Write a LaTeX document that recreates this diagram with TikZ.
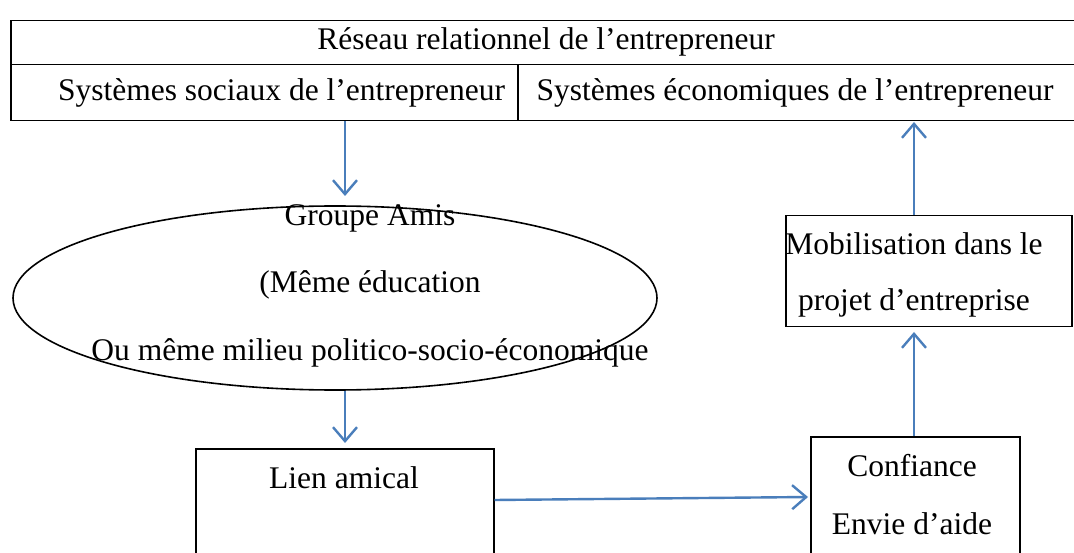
\documentclass[tikz,border=0pt]{standalone}
\usepackage{fontspec}
\setmainfont{Liberation Serif}
\usetikzlibrary{shapes.geometric,arrows.meta}
\definecolor{arrowblue}{HTML}{4A7EBB}
\begin{document}
\begin{tikzpicture}[x=1pt,y=-1pt,
  box/.style={draw,line width=1.5pt,rectangle,anchor=north west,inner sep=0pt},
  txt/.style={anchor=base,inner sep=0pt,font=\fontsize{31.5}{38}\selectfont},
  arr/.style={draw=arrowblue,line width=2.4pt,-{Straight Barb[length=14pt,width=24pt,line width=2.4pt]}}]
\useasboundingbox (0,0) rectangle (1074,553);
\fill[white] (0,0) rectangle (1074,553);
% table
\node[box,minimum width=1066pt,minimum height=44pt] (title) at (10,20) {};
\node[box,minimum width=507pt,minimum height=56pt] (soc) at (10,64) {};
\node[box,minimum width=559pt,minimum height=56pt] (eco) at (517,64) {};
\node[txt] (ttitle) at (546,50) {Réseau relationnel de l’entrepreneur};
\node[txt] (tsoc) at (281.5,101) {Systèmes sociaux de l’entrepreneur};
\node[txt] (teco) at (795,101) {Systèmes économiques de l’entrepreneur};
% ellipse
\node[draw,ellipse,line width=1.6pt,minimum width=644pt,minimum height=184pt,inner sep=0pt] (grp) at (335,298) {};
\node[txt] (g1) at (370,226) {Groupe Amis};
\node[txt] (g2) at (370,293) {(Même éducation};
\node[txt] (g3) at (370,360) {Ou même milieu politico-socio-économique};
% boxes
\node[box,minimum width=298pt,minimum height=120pt] (lien) at (195,448) {};
\node[txt] (tlien) at (344,488) {Lien amical};
\node[box,minimum width=209pt,minimum height=130pt] (conf) at (810,436) {};
\node[txt] (c1) at (912,476) {Confiance};
\node[txt] (c2) at (912,534) {Envie d’aide};
\node[box,minimum width=286pt,minimum height=111pt] (mob) at (785,215) {};
\node[txt] (m1) at (914,255) {Mobilisation dans le};
\node[txt] (m2) at (914,311) {projet d’entreprise};
% connectors
\coordinate (a1) at (345,196);
\coordinate (a2) at (345,443);
\coordinate (a3) at (808,497);
\coordinate (a4) at (914,332);
\coordinate (a5) at (914,122);
\draw[arr] (soc.south -| a1) -- (a1);
\draw[arr] (grp.south -| a2) -- (a2);
\draw[arr] (lien.east |- 0,500) -- (a3);
\draw[arr] (conf.north -| a4) -- (a4);
\draw[arr] (mob.north -| a5) -- (a5);
\end{tikzpicture}
\end{document}
